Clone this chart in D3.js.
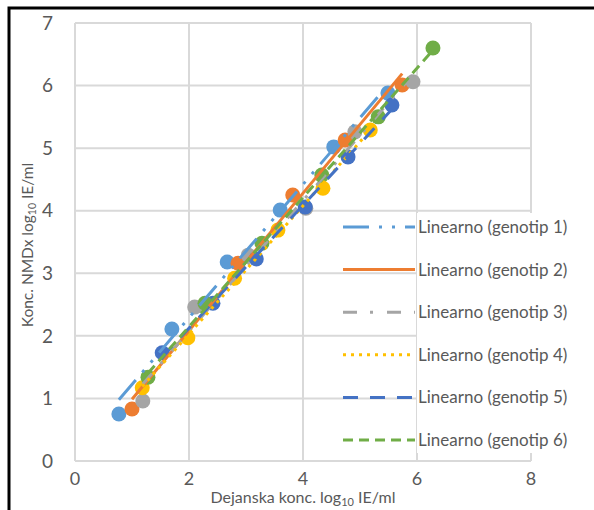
<!DOCTYPE html>
<html>
<head>
<meta charset="utf-8">
<script src="https://cdn.jsdelivr.net/npm/d3@7"></script>
<style>
  body { margin: 0; background: #fff; }
  text { font-family: Lato, "Open Sans", sans-serif; fill: #595959; }
</style>
</head>
<body>
<div id="chart"></div>
<script>
// Konc. NMDx vs dejanska konc. (log10 IE/ml), six genotypes with linear trendlines

const genotypes = ['genotip 1', 'genotip 2', 'genotip 3', 'genotip 4', 'genotip 5', 'genotip 6']
const colors = ['#5B9BD5', '#ED7D31', '#A5A5A5', '#FFC000', '#4472C4', '#70AD47']
const dashes = ['26,10,3,10,3,10', null, '14,13,3,14', '3,5', '15,12', '10,6']

// measured points per genotype: [dejanska, NMDx]
const g1 = [[0.77, 0.75], [1.70, 2.11], [2.67, 3.18], [3.60, 4.01], [4.54, 5.02], [5.49, 5.88]]
const g2 = [[1.00, 0.83], [2.86, 3.16], [3.82, 4.25], [4.74, 5.13], [5.74, 6.01]]
const g3 = [[1.19, 0.96], [2.10, 2.46], [3.04, 3.29], [4.05, 4.04], [4.91, 5.26], [5.93, 6.06]]
const g4 = [[1.18, 1.17], [1.98, 1.97], [2.80, 2.92], [3.56, 3.69], [4.35, 4.36], [5.18, 5.29]]
const g5 = [[1.53, 1.73], [2.42, 2.52], [3.18, 3.23], [4.04, 4.06], [4.79, 4.86], [5.56, 5.69]]
const g6 = [[1.28, 1.34], [2.28, 2.52], [3.28, 3.48], [4.33, 4.57], [5.32, 5.50], [6.28, 6.60]]
const seriesData = [g1, g2, g3, g4, g5, g6]

const xTicks = [0, 2, 4, 6, 8]
const yTicks = [0, 1, 2, 3, 4, 5, 6, 7]

const W = 594, H = 510

const xScale = d3.scaleLinear().domain([0, 8]).range([75, 531])
const yScale = d3.scaleLinear().domain([0, 7]).range([461, 23])

const svg = d3.select('#chart')
    .append('svg')
    .attr('width', W)
    .attr('height', H)

// outer frame (only top and left edges are visible)
svg.append('rect')
    .attr('x', 9)
    .attr('y', 8)
    .attr('width', W + 20)
    .attr('height', H + 20)
    .attr('fill', 'none')
    .attr('stroke', '#000')
    .attr('stroke-width', 3)

// grid
svg.append('g')
    .selectAll('line')
    .data(yTicks)
    .join('line')
    .attr('x1', xScale(0))
    .attr('x2', xScale(8))
    .attr('y1', d => yScale(d))
    .attr('y2', d => yScale(d))
    .attr('stroke', '#d9d9d9')
    .attr('stroke-width', 2)

svg.append('g')
    .selectAll('line')
    .data(xTicks)
    .join('line')
    .attr('x1', d => xScale(d))
    .attr('x2', d => xScale(d))
    .attr('y1', yScale(7))
    .attr('y2', yScale(0))
    .attr('stroke', '#d9d9d9')
    .attr('stroke-width', 2)

// tick labels
svg.append('g')
    .selectAll('text')
    .data(yTicks)
    .join('text')
    .attr('x', 53)
    .attr('y', d => yScale(d))
    .attr('dy', '0.35em')
    .attr('text-anchor', 'end')
    .attr('font-size', 19)
    .text(d => d)

svg.append('g')
    .selectAll('text')
    .data(xTicks)
    .join('text')
    .attr('x', d => xScale(d))
    .attr('y', 485)
    .attr('text-anchor', 'middle')
    .attr('font-size', 18)
    .text(d => d)

// axis titles
const xTitle = svg.append('text')
    .attr('x', 303)
    .attr('y', 503)
    .attr('text-anchor', 'middle')
    .attr('font-size', 16)
xTitle.append('tspan').text('Dejanska konc. log')
xTitle.append('tspan').attr('font-size', 11).attr('dy', 3).text('10')
xTitle.append('tspan').attr('dy', -3).text(' IE/ml')

const yTitle = svg.append('text')
    .attr('transform', 'translate(33,245) rotate(-90)')
    .attr('text-anchor', 'middle')
    .attr('font-size', 15.5)
yTitle.append('tspan').text('Konc. NMDx log')
yTitle.append('tspan').attr('font-size', 10.5).attr('dy', 3).text('10')
yTitle.append('tspan').attr('dy', -3).text(' IE/ml')

// markers
seriesData.forEach((pts, i) => {
    svg.append('g')
        .selectAll('circle')
        .data(pts)
        .join('circle')
        .attr('cx', d => xScale(d[0]))
        .attr('cy', d => yScale(d[1]))
        .attr('r', 7.5)
        .attr('fill', colors[i])
})

// linear trendlines (least squares over each genotype)
seriesData.forEach((pts, i) => {
    const mx = d3.mean(pts, d => d[0])
    const my = d3.mean(pts, d => d[1])
    const slope = d3.sum(pts, d => (d[0] - mx) * (d[1] - my)) / d3.sum(pts, d => (d[0] - mx) ** 2)
    const icpt = my - slope * mx
    const [x0, x1] = d3.extent(pts, d => d[0])
    svg.append('line')
        .attr('x1', xScale(x0))
        .attr('y1', yScale(icpt + slope * x0))
        .attr('x2', xScale(x1))
        .attr('y2', yScale(icpt + slope * x1))
        .attr('stroke', colors[i])
        .attr('stroke-width', 3)
        .attr('stroke-dasharray', dashes[i])
})

// legend
svg.append('rect')
    .attr('x', 417)
    .attr('y', 213)
    .attr('width', 170)
    .attr('height', 240)
    .attr('fill', '#fff')

const legend = svg.append('g')
    .selectAll('g')
    .data(genotypes)
    .join('g')
    .attr('transform', (d, i) => `translate(0,${227 + i * 42.6})`)

legend.append('line')
    .attr('x1', 343)
    .attr('x2', 415)
    .attr('stroke', (d, i) => colors[i])
    .attr('stroke-width', 3)
    .attr('stroke-dasharray', (d, i) => dashes[i])

legend.append('text')
    .attr('x', 418)
    .attr('dy', '0.35em')
    .attr('font-size', 17)
    .text(d => `Linearno (${d})`)
</script>
</body>
</html>
